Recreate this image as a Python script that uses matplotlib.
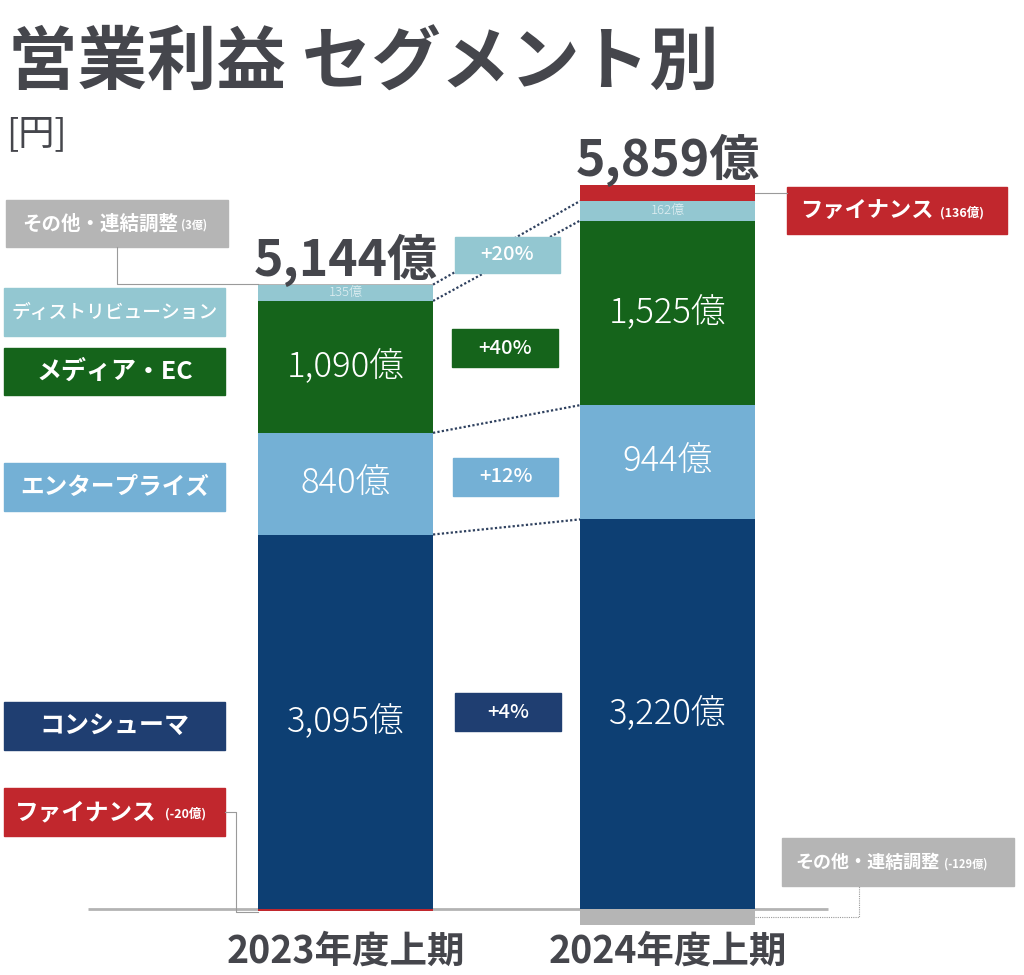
import matplotlib
matplotlib.use('Agg')
from matplotlib import pyplot as plt
from matplotlib.patches import Rectangle

plt.rcParams['font.family'] = ['Noto Sans CJK JP', 'DejaVu Sans']

# データ (億円)
periods = ['2023年度上期', '2024年度上期']
consumer = [3095, 3220]
enterprise = [840, 944]
media = [1090, 1525]
distribution = [135, 162]
other = [3, -129]
finance = [-20, 136]
totals = [5144, 5859]
growth = ['+4%', '+12%', '+40%', '+20%']

DARK = '#45464c'
NAVY = '#0d3f73'
NAVY_BOX = '#1f3e71'
LBLUE = '#74b0d5'
GREEN = '#15641b'
TEAL = '#93c7d1'
RED = '#c1272d'
GRAY = '#b5b5b5'

W, H = 1024, 975
fig = plt.figure(figsize=(W / 100, H / 100), dpi=100)
ax = fig.add_axes([0, 0, 1, 1])
ax.set_xlim(-1.073, 2.107)
ax.set_ylim(-545, 7512)
ax.axis('off')

# 重ねる座標系 (ピクセル, 上が0)
ov = fig.add_axes([0, 0, 1, 1])
ov.set_xlim(0, W)
ov.set_ylim(H, 0)
ov.axis('off')
ov.patch.set_alpha(0)


def dpx(xd, yd):
    disp = ax.transData.transform((xd, yd))
    return ov.transData.inverted().transform(disp)


x = [0, 1]
bw = 0.5435

# 基準線
x0 = ax.transData.inverted().transform(ov.transData.transform((88, 0)))[0]
x1 = ax.transData.inverted().transform(ov.transData.transform((828, 0)))[0]
ax.hlines(0, x0, x1, color='#b3b3b3', lw=2, zorder=1)

# 積み上げ
series = [consumer, enterprise, media, distribution, other, finance]
colors = [NAVY, LBLUE, GREEN, TEAL, GRAY, RED]
pos = [0, 0]
neg = [0, 0]
tops = []
mids = []
for vals, c in zip(series, colors):
    m = []
    for i, v in enumerate(vals):
        if v >= 0:
            ax.bar(x[i], v, bottom=pos[i], width=bw, color=c, zorder=2)
            m.append(pos[i] + v / 2)
            pos[i] += v
        else:
            ax.bar(x[i], v, bottom=neg[i], width=bw, color=c, zorder=2)
            m.append(neg[i] + v / 2)
            neg[i] += v
    tops.append(list(pos))
    mids.append(m)

# 棒の中の数値
for k in range(3):
    for i in range(2):
        ax.text(x[i], mids[k][i], f'{series[k][i]:,}億', ha='center', va='center',
                color='white', fontsize=25, fontweight='light', zorder=3)
for i in range(2):
    ax.text(x[i], mids[3][i], f'{distribution[i]:,}億', ha='center', va='center',
            color='#e3f0f3', fontsize=9.5, fontweight='light', zorder=3)

# 合計
for i in range(2):
    ax.annotate(f'{totals[i]:,}億', (x[i], pos[i]), xytext=(0, 6), textcoords='offset points',
                ha='center', va='baseline', fontsize=36, fontweight='bold', color=DARK)

# 点線 (前年との比較)
for k in range(4):
    ax.plot([x[0] + bw / 2, x[1] - bw / 2], [tops[k][0], tops[k][1]],
            ls=(0, (1, 1)), color='#2e405e', lw=1.6, zorder=1)

# 年度
for i in range(2):
    ax.annotate(periods[i], (x[i], 0), xytext=(0, -30), textcoords='offset points',
                ha='center', va='center', fontsize=27, fontweight='bold', color=DARK)


def box(x0, y0, x1, y1, color, text, fs, weight='bold', suffix=None, sfs=8, tx=None, sx=None):
    ov.add_patch(Rectangle((x0, y0), x1 - x0, y1 - y0, color=color, zorder=2))
    yc = (y0 + y1) / 2
    if suffix is None:
        ov.text((x0 + x1) / 2, yc, text, ha='center', va='center', color='white',
                fontsize=fs, fontweight=weight, zorder=3)
    else:
        ov.text(tx, yc, text, ha='left', va='center', color='white',
                fontsize=fs, fontweight=weight, zorder=3)
        ov.text(sx, yc + 2, suffix, ha='left', va='center', color='white',
                fontsize=sfs, fontweight='bold', zorder=3)


# 左の凡例
box(6, 200, 228, 247, GRAY, 'その他・連結調整', 14, suffix='(3億)', sfs=8, tx=22, sx=181)
box(4, 288, 225, 336, TEAL, 'ディストリビューション', 13.5, weight='medium')
box(4, 348, 225, 395, GREEN, 'メディア・EC', 18)
box(4, 463, 225, 511, LBLUE, 'エンタープライズ', 17)
box(4, 702, 225, 750, NAVY_BOX, 'コンシューマ', 18)
box(4, 788, 225, 836, RED, 'ファイナンス', 17, suffix='(-20億)', sfs=9, tx=15, sx=165)

# 右の凡例
box(787, 187, 1007, 234, RED, 'ファイナンス', 16, suffix='(136億)', sfs=9, tx=800, sx=940)
box(782, 838, 1014, 886, GRAY, 'その他・連結調整', 13, suffix='(-129億)', sfs=8, tx=795, sx=944)

# 伸び率
gboxes = [(455, 693, 561, 731, NAVY_BOX), (453, 458, 558, 496, LBLUE),
          (452, 329, 558, 367, GREEN), (455, 237, 560, 273, TEAL)]
for g, (a, b, c, d, col) in zip(growth, gboxes):
    box(a, b, c, d, col, g, 14.5, weight='medium')

# 引き出し線
lc = '#9a9a9a'
_, yo = dpx(x[0], pos[0])
xl, _ = dpx(x[0] - bw / 2, 0)
ov.plot([117, 117, xl], [247, yo, yo], color=lc, lw=0.8)
_, yf = dpx(x[0], mids[5][0])
ov.plot([225, 236, 236, xl], [812, 812, yf + 2, yf + 2], color=lc, lw=0.8)
xr, yf2 = dpx(x[1] + bw / 2, mids[5][1])
ov.plot([xr, 787], [yf2, yf2], color=lc, lw=0.8)
_, yo2 = dpx(x[1], mids[4][1])
ov.plot([xr, 859, 859], [yo2, yo2, 886], color=lc, lw=0.8, ls=(0, (1, 1)))

# タイトル
ov.text(8, 64, '営業利益 セグメント別', ha='left', va='center', fontsize=50,
        fontweight='bold', color=DARK)
ov.text(6, 134, '[円]', ha='left', va='center', fontsize=26, color=DARK)

plt.savefig('out.png', dpi=100)
